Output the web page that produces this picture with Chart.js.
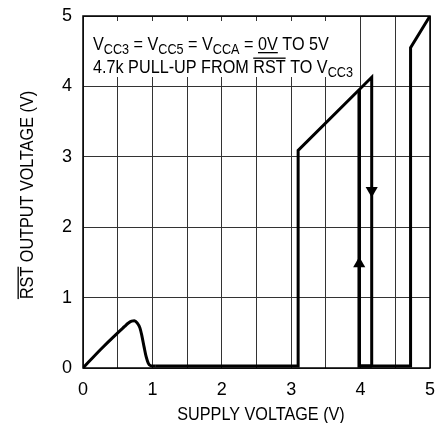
<!DOCTYPE html>
<html>
<head>
<meta charset="utf-8">
<script src="https://cdn.jsdelivr.net/npm/chart.js@4.4.1/dist/chart.umd.min.js"></script>
<style>
  html, body { margin: 0; padding: 0; background: #fff; }
  #wrap { width: 437px; height: 423px; position: relative; }
</style>
</head>
<body>
<div id="wrap"><canvas id="c" width="437" height="423"></canvas></div>
<script>
// RST output vs. supply voltage (V)
const xTicks = [0, 1, 2, 3, 4, 5];
const yTicks = [0, 1, 2, 3, 4, 5];

// low-supply hump before the reset output takes over
const humpX = [0, 0.25, 0.5, 0.6, 0.65, 0.7, 0.74, 0.78, 0.82, 0.85, 0.88, 0.91, 0.94, 0.97, 1.0, 1.05];
const humpY = [0, 0.26, 0.5, 0.59, 0.635, 0.665, 0.67, 0.64, 0.57, 0.45, 0.3, 0.16, 0.07, 0.035, 0.03, 0.03];

// rising supply trace
const riseX = [1.05, 3.1, 3.1, 4.16, 4.16, 4.72, 4.72, 5.0];
const riseY = [0.03, 0.03, 3.09, 4.13, 0.03, 0.03, 4.55, 5.0];

// falling-supply hysteresis branch
const fallX = [3.98, 3.98, 4.16];
const fallY = [3.95, 0.03, 0.03];

// direction arrows
const arrowX = [3.98, 4.16];
const arrowY = [1.48, 2.52];
const arrowRot = [0, 180];

const FONT = "'Liberation Sans', Arial, sans-serif";
const SQUEEZE = 0.9;   // condensed look for the text

function pts(xs, ys) { return xs.map((x, i) => ({ x: x, y: ys[i] })); }

// width of a run list at a given size (before squeeze)
function runsWidth(ctx, runs, size) {
  let w = 0;
  runs.forEach(r => {
    ctx.font = (r.sub ? size * 0.78 : size) + 'px ' + FONT;
    w += ctx.measureText(r.t).width;
  });
  return w;
}

// draws text with subscript / overline / underline runs, horizontally condensed
function richText(ctx, runs, x, y, size) {
  ctx.save();
  ctx.translate(x, y);
  ctx.scale(SQUEEZE, 1);
  let cx = 0;
  runs.forEach(r => {
    const s = r.sub ? size * 0.78 : size;
    ctx.font = s + 'px ' + FONT;
    const w = ctx.measureText(r.t).width;
    const dy = r.sub ? size * 0.22 : 0;
    ctx.fillText(r.t, cx, dy);
    if (r.over) ctx.fillRect(cx, -size * 0.86, w, 1.3);
    if (r.under) ctx.fillRect(cx, 2, w, 1.3);
    cx += w;
  });
  ctx.restore();
}

const decor = {
  id: 'decor',
  beforeDatasetsDraw(chart) {
    const ctx = chart.ctx;
    const a = chart.chartArea;
    ctx.save();
    // clear grid behind the condition note
    ctx.fillStyle = '#fff';
    ctx.fillRect(a.left + 1, a.top + 5, 275, 56);
    // frame
    ctx.strokeStyle = '#000';
    ctx.lineWidth = 1.5;
    ctx.strokeRect(a.left, a.top, a.right - a.left, a.bottom - a.top);
    ctx.restore();
  },
  afterDraw(chart) {
    const ctx = chart.ctx;
    const a = chart.chartArea;
    ctx.save();
    ctx.fillStyle = '#000';
    ctx.textBaseline = 'alphabetic';
    ctx.textAlign = 'left';
    const fs = 18;
    richText(ctx, [
      { t: 'V' }, { t: 'CC3', sub: true }, { t: ' = V' }, { t: 'CC5', sub: true },
      { t: ' = V' }, { t: 'CCA', sub: true }, { t: ' = ' }, { t: '0V', under: true }, { t: ' TO 5V' }
    ], a.left + 10, a.top + 34, fs);
    richText(ctx, [
      { t: '4.7k PULL-UP FROM ' }, { t: 'RST', over: true }, { t: ' TO V' }, { t: 'CC3', sub: true }
    ], a.left + 10, a.top + 57, fs);

    // x-axis title
    const xr = [{ t: 'SUPPLY VOLTAGE (V)' }];
    const xw = runsWidth(ctx, xr, 18) * SQUEEZE;
    richText(ctx, xr, 261 - xw / 2, 420, 18);

    // y-axis title, rotated
    ctx.save();
    ctx.translate(33, 195);
    ctx.rotate(-Math.PI / 2);
    const yr = [{ t: 'RST', over: true }, { t: ' OUTPUT VOLTAGE (V)' }];
    const yw = runsWidth(ctx, yr, 18) * SQUEEZE;
    richText(ctx, yr, -yw / 2, 0, 18);
    ctx.restore();
    ctx.restore();
  }
};

const lineStyle = { borderColor: '#000', backgroundColor: '#000', pointRadius: 0, fill: false, showLine: true };

new Chart(document.getElementById('c'), {
  type: 'scatter',
  data: {
    datasets: [
      Object.assign({ data: pts(humpX, humpY), borderWidth: 3, cubicInterpolationMode: 'monotone' }, lineStyle),
      Object.assign({ data: pts(riseX, riseY), borderWidth: 3, borderJoinStyle: 'miter' }, lineStyle),
      Object.assign({ data: pts(fallX, fallY), borderWidth: 3.5, borderJoinStyle: 'miter' }, lineStyle),
      {
        data: pts(arrowX, arrowY), showLine: false,
        pointStyle: 'triangle', pointRadius: 7, pointRotation: arrowRot,
        backgroundColor: '#000', borderColor: '#000', borderWidth: 0
      }
    ]
  },
  options: {
    responsive: false,
    animation: false,
    events: [],
    layout: { padding: { top: 16, right: 4, left: 0, bottom: 0 } },
    plugins: { legend: { display: false }, tooltip: { enabled: false } },
    scales: {
      x: {
        type: 'linear', min: 0, max: 5,
        afterFit(s) { s.height = 55; s.paddingLeft = 0; s.paddingRight = 0; },
        afterBuildTicks(s) {
          const t = [];
          for (let i = 0; i <= 10; i++) t.push({ value: i * 0.5 });
          s.ticks = t;
        },
        ticks: {
          padding: 11, color: '#000', maxRotation: 0, autoSkip: false,
          font: { family: FONT, size: 18 },
          callback(v) { return xTicks.includes(v) ? String(v) : ''; }
        },
        grid: { color: '#333', lineWidth: 1, drawTicks: false },
        border: { display: false }
      },
      y: {
        type: 'linear', min: 0, max: 5,
        afterFit(s) { s.width = 83; s.paddingTop = 0; s.paddingBottom = 0; },
        afterBuildTicks(s) { s.ticks = yTicks.map(v => ({ value: v })); },
        ticks: {
          padding: 11, color: '#000',
          font: { family: FONT, size: 18 },
          callback(v) { return String(v); }
        },
        grid: { color: '#333', lineWidth: 1, drawTicks: false },
        border: { display: false }
      }
    }
  },
  plugins: [decor]
});
</script>
</body>
</html>
